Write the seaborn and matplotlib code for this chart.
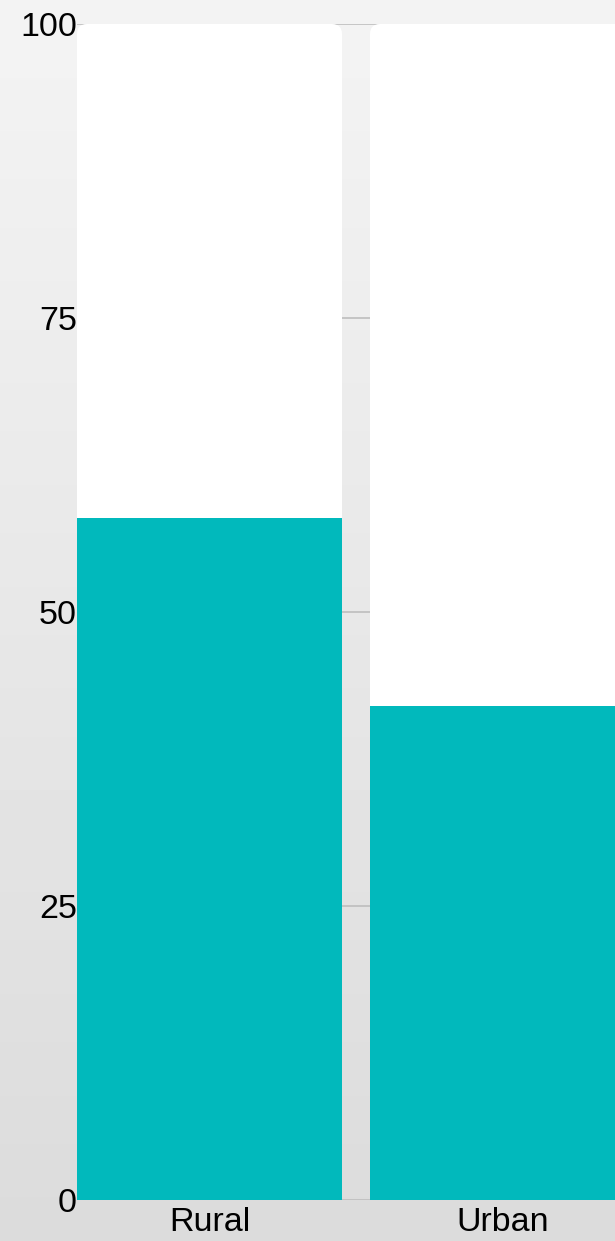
import numpy as np
import pandas as pd
import matplotlib
matplotlib.use("Agg")
import matplotlib.pyplot as plt
from matplotlib.patches import FancyBboxPatch
import seaborn as sns

# data
categories = ["Rural", "Urban"]
shares = [58, 42]
totals = [100, 100]
y_ticks = [0, 25, 50, 75, 100]

TEAL = "#01b9bc"

sns.set_style("white")
plt.rcParams["font.family"] = ["Liberation Sans", "DejaVu Sans"]

W, H = 615, 1241
fig = plt.figure(figsize=(W / 100, H / 100), dpi=100)

# soft grey backdrop (stand-in for the faded photo)
bg = fig.add_axes([0, 0, 1, 1], zorder=-10)
grad = np.linspace(0.955, 0.86, 256).reshape(-1, 1)
bg.imshow(grad, cmap="gray", vmin=0, vmax=1, aspect="auto", extent=[0, 1, 0, 1])
bg.axis("off")

ax = fig.add_axes([77 / W, 41 / H, 538 / W, 1176 / H])
ax.patch.set_alpha(0)

df = pd.DataFrame({"area": categories, "share": shares, "total": totals})

bar_w = 265 / 293
sns.barplot(data=df, x="area", y="total", color="white", saturation=1,
            width=bar_w, linewidth=0, ax=ax, zorder=1)
white_bars = list(ax.patches)
sns.barplot(data=df, x="area", y="share", color=TEAL, saturation=1,
            width=bar_w, linewidth=0, ax=ax, zorder=2)

# round the top corners of the white backing bars
for p in white_bars:
    x0, y0 = p.get_x(), p.get_y()
    w, h = p.get_width(), p.get_height()
    p.remove()
    ax.add_patch(FancyBboxPatch((x0, y0), w, h,
                                boxstyle="round,pad=0,rounding_size=0.034",
                                mutation_aspect=24.9, facecolor="white",
                                edgecolor="none", zorder=1))

ax.set_ylim(0, 100)
ax.set_xlim(-bar_w / 2, -bar_w / 2 + 538 / 293)
ax.set_yticks(y_ticks)
ax.set_yticklabels([str(t) for t in y_ticks])
ax.yaxis.grid(True, color="#bdbdbd", linewidth=1.2)
ax.set_axisbelow(True)
ax.tick_params(axis="both", length=0, labelsize=24.5, labelcolor="black")
ax.tick_params(axis="y", pad=0)
ax.tick_params(axis="x", pad=5)
ax.set_xlabel("")
ax.set_ylabel("")
for s in ax.spines.values():
    s.set_visible(False)

fig.savefig("out.png", dpi=100)
